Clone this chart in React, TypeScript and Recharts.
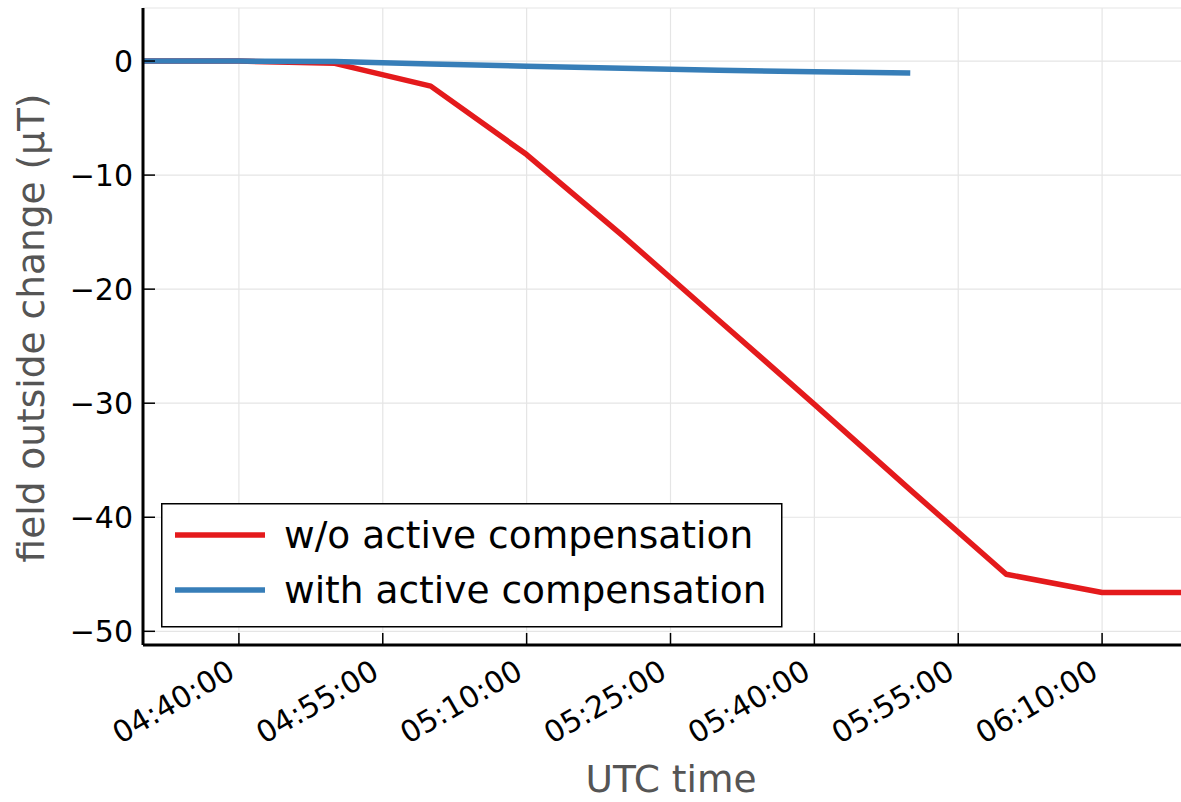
import React from 'react';
import { LineChart, Line, XAxis, YAxis, CartesianGrid, Legend, Label } from 'recharts';

// time in minutes since midnight (UTC)
const timeMinutes = [270, 280, 290, 300, 310, 320, 330, 340, 350, 360, 370, 380];
const redValues = [0, 0, -0.2, -2.2, -8.2, -15.3, -22.7, -30.1, -37.6, -45.0, -46.6, -46.6];
const blueValues: (number | null)[] = [0, 0, -0.05, -0.25, -0.45, -0.63, -0.8, -0.95, -1.05, null, null, null];
const xTicks = [280, 295, 310, 325, 340, 355, 370];
const yTicks = [0, -10, -20, -30, -40, -50];
const seriesNames = ['w/o active compensation', 'with active compensation'];
const RED = '#e41a1c';
const BLUE = '#377eb8';
const FONT = '"DejaVu Sans", sans-serif';
const TICK_FS = 30;
const LABEL_FS = 37.5;

const data = timeMinutes.map((t, i) => ({ t, red: redValues[i], blue: blueValues[i] }));

const pad = (n: number) => (n < 10 ? '0' + n : '' + n);
const fmtTime = (m: number) => `${pad(Math.floor(m / 60))}:${pad(m % 60)}:00`;
const fmtNum = (v: number) => (v < 0 ? '\u2212' + Math.abs(v) : '' + v);

const TICK_LEN = 12;

const BottomTick = (props: any) => {
  const { x, y, payload } = props;
  const tx = x - 2;
  const ty = y + 32;
  return (
    <g>
      <line x1={x} y1={y} x2={x} y2={y - TICK_LEN} stroke="#000" strokeWidth={1.5} />
      <text x={tx} y={ty} textAnchor="end" fontSize={TICK_FS} fill="#000" fontFamily={FONT}
        transform={`rotate(-30 ${tx} ${ty})`}>{fmtTime(payload.value)}</text>
    </g>
  );
};

const TopTick = (props: any) => {
  const { x, y } = props;
  return <line x1={x} y1={y} x2={x} y2={y + TICK_LEN} stroke="#000" strokeWidth={1.5} />;
};

const LeftTick = (props: any) => {
  const { x, y, payload } = props;
  return (
    <g>
      <line x1={x} y1={y} x2={x + TICK_LEN} y2={y} stroke="#000" strokeWidth={1.5} />
      <text x={x - 10} y={y} dy="0.36em" textAnchor="end" fontSize={TICK_FS} fill="#000" fontFamily={FONT}>
        {fmtNum(payload.value)}
      </text>
    </g>
  );
};

const LegendBox = () => (
  <svg width={622} height={125} style={{ display: 'block' }}>
    <rect x={0.75} y={0.75} width={620} height={123} fill="#fff" stroke="#000" strokeWidth={1.5} />
    <line x1={14} y1={32} x2={104} y2={32} stroke={RED} strokeWidth={5.5} />
    <text x={123} y={45} fontSize={LABEL_FS} fill="#000" fontFamily={FONT}>{seriesNames[0]}</text>
    <line x1={14} y1={87} x2={104} y2={87} stroke={BLUE} strokeWidth={5.5} />
    <text x={123} y={100} fontSize={LABEL_FS} fill="#000" fontFamily={FONT}>{seriesNames[1]}</text>
  </svg>
);

export default function App() {
  return (
    <div style={{ position: 'absolute', left: 0, top: 0, width: 1181, height: 802, overflow: 'hidden', background: '#fff' }}>
      <LineChart width={1200} height={802} data={data} margin={{ top: 8, right: 2, left: 0, bottom: 0 }}
        style={{ fontFamily: FONT }}>
        <CartesianGrid xAxisId="b" yAxisId="l" stroke="#e5e5e5" strokeWidth={1.2} />
        <XAxis xAxisId="b" dataKey="t" type="number" domain={[270, 380]} ticks={xTicks} allowDataOverflow
          height={157} tickSize={0} tickMargin={0} tickLine={false} interval={0}
          axisLine={{ stroke: '#000', strokeWidth: 3 }} tick={<BottomTick />}>
          <Label content={() => (
            <text x={671} y={792} textAnchor="middle" fontSize={LABEL_FS} fill="#555" fontFamily={FONT}>UTC time</text>
          )} />
        </XAxis>
        <XAxis xAxisId="top" orientation="top" dataKey="t" type="number" domain={[270, 380]} ticks={xTicks}
          allowDataOverflow height={0} tickSize={0} tickMargin={0} tickLine={false} interval={0}
          axisLine={{ stroke: '#000', strokeWidth: 3 }} tick={<TopTick />} />
        <YAxis yAxisId="l" type="number" domain={[-51.2, 4.65]} ticks={yTicks} allowDataOverflow width={143}
          tickSize={0} tickMargin={0} tickLine={false} interval={0}
          axisLine={{ stroke: '#000', strokeWidth: 3 }} tick={<LeftTick />}>
          <Label content={() => (
            <text x={44} y={328} transform="rotate(-90 44 328)" textAnchor="middle" fontSize={LABEL_FS}
              fill="#555" fontFamily={FONT}>field outside change (µT)</text>
          )} />
        </YAxis>
        <Line xAxisId="b" yAxisId="l" type="linear" dataKey="red" name={seriesNames[0]} stroke={RED} strokeWidth={5.5}
          strokeLinejoin="round" dot={false} activeDot={false} isAnimationActive={false} />
        <Line xAxisId="b" yAxisId="l" type="linear" dataKey="blue" name={seriesNames[1]} stroke={BLUE} strokeWidth={5.5}
          strokeLinejoin="round" dot={false} activeDot={false} isAnimationActive={false} />
        <Legend layout="vertical" align="center" verticalAlign="middle" content={() => <LegendBox />}
          wrapperStyle={{ left: 161, top: 503, width: 622, height: 125 }} />
      </LineChart>
    </div>
  );
}
